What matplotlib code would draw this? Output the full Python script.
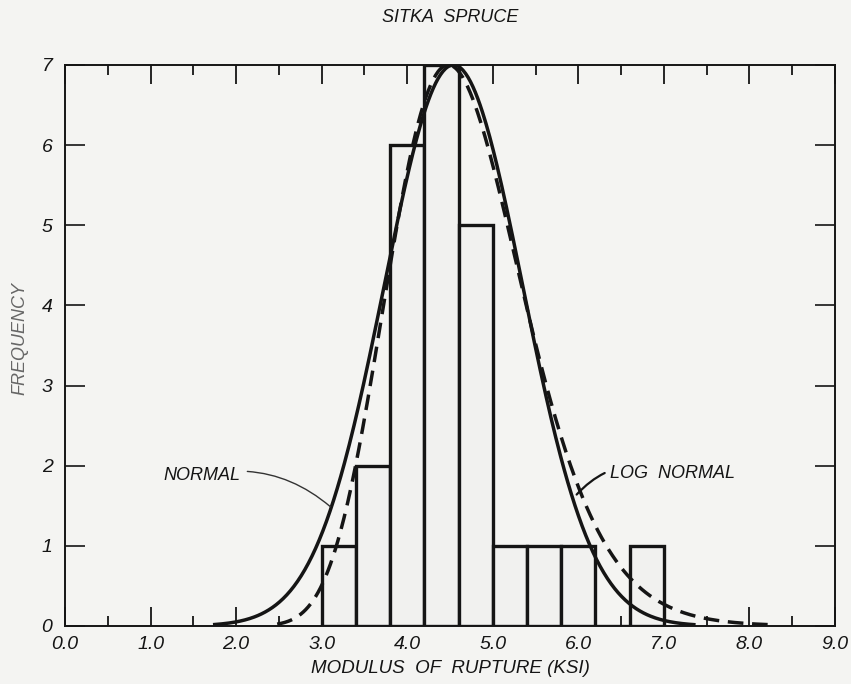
import matplotlib
matplotlib.use("Agg")
import matplotlib.pyplot as plt
import numpy as np

# histogram of modulus of rupture (ksi)
bin_edges = [3.0, 3.4, 3.8, 4.2, 4.6, 5.0, 5.4, 5.8, 6.2, 6.6, 7.0]
counts = [1, 2, 6, 7, 5, 1, 1, 1, 0, 1]

# fitted curves, scaled to the peak frequency
normal_mean = 4.54
normal_sd = 0.81
normal_range = (1.75, 7.35)
lognormal_mode = 4.48
lognormal_s = 0.175
lognormal_range = (2.48, 8.25)
peak_freq = 7.0

x_ticks = [0, 1, 2, 3, 4, 5, 6, 7, 8, 9]
x_ticklabels = ["0.0", "1.0", "2.0", "3.0", "4.0", "5.0", "6.0", "7.0", "8.0", "9.0"]
y_ticks = [0, 1, 2, 3, 4, 5, 6, 7]

bg = "#f4f4f2"
ink = "#151515"
plt.rcParams["font.family"] = ["Liberation Sans", "DejaVu Sans"]
plt.rcParams["font.style"] = "italic"

fig = plt.figure(figsize=(8.51, 6.84), dpi=100, facecolor=bg)
ax = fig.add_axes([0.0764, 0.0848, 0.9048, 0.8202])
ax.set_facecolor(bg)

lefts = np.array(bin_edges[:-1])
widths = np.diff(bin_edges)
ax.bar(lefts, counts, width=widths, align="edge", facecolor="#f1f1ef",
       edgecolor=ink, linewidth=2.4, zorder=2)

xn = np.linspace(normal_range[0], normal_range[1], 400)
yn = peak_freq * np.exp(-(xn - normal_mean) ** 2 / (2 * normal_sd ** 2))
ax.plot(xn, yn, color=ink, lw=2.5, zorder=3)

xl = np.linspace(lognormal_range[0], lognormal_range[1], 400)
yl = peak_freq * np.exp(-(np.log(xl) - np.log(lognormal_mode)) ** 2 / (2 * lognormal_s ** 2))
ax.plot(xl, yl, color=ink, lw=2.5, ls=(0, (4.5, 2.5)), zorder=3)

ax.set_xlim(0, 9)
ax.set_ylim(0, 7)
ax.set_xticks(x_ticks)
ax.set_xticklabels(x_ticklabels)
ax.set_xticks(np.arange(0.5, 9, 1.0), minor=True)
ax.set_yticks(y_ticks)
ax.tick_params(axis="x", which="major", direction="in", length=13.5, width=1.3,
               top=True, labelsize=14, pad=7, colors=ink)
ax.tick_params(axis="x", which="minor", direction="in", length=7, width=1.3,
               top=True, colors=ink)
ax.tick_params(axis="y", direction="in", length=14.5, width=1.2, right=True,
               labelsize=14, pad=9, colors=ink)
for s in ax.spines.values():
    s.set_linewidth(1.4)
    s.set_color(ink)

ax.set_xlabel("MODULUS  OF  RUPTURE (KSI)", fontsize=13.5, color=ink, labelpad=5)
ax.set_ylabel("FREQUENCY", fontsize=13, color="#666666")
ax.yaxis.set_label_coords(-0.047, 0.513)
ax.set_title("SITKA  SPRUCE", fontsize=13, color=ink, pad=31)

ax.annotate("NORMAL", xy=(3.10, 1.49), xytext=(1.15, 1.88), fontsize=13,
            color=ink, va="center", ha="left",
            arrowprops=dict(arrowstyle="-", color="#333333", lw=1.0,
                            connectionstyle="arc3,rad=-0.25",
                            shrinkA=3, shrinkB=0))
ax.annotate("LOG  NORMAL", xy=(5.98, 1.64), xytext=(6.37, 1.90), fontsize=13,
            color=ink, va="center", ha="left",
            arrowprops=dict(arrowstyle="-", color=ink, lw=1.6,
                            connectionstyle="arc3,rad=0.35",
                            shrinkA=2, shrinkB=0))

fig.savefig("out.png", dpi=100, facecolor=bg)
